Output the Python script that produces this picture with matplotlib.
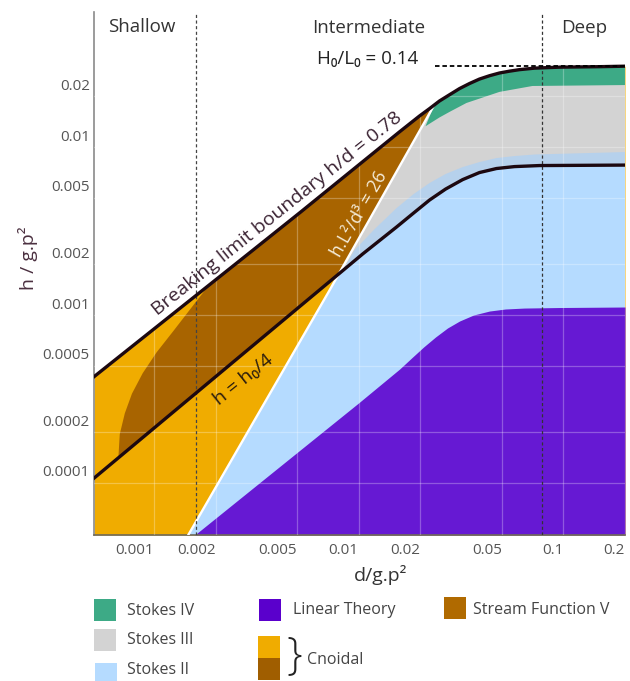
import numpy as np
import matplotlib
matplotlib.use('Agg')
import matplotlib.pyplot as plt
from matplotlib.patches import Polygon, Rectangle
from matplotlib.transforms import ScaledTranslation

plt.rcParams['font.family'] = ['Open Sans', 'DejaVu Sans']

# curves, x = d/gT^2, y = h/gT^2
# breaking limit (h/d = 0.78 on the left, H0/L0 = 0.14 on the right)
break_d = [0.00051, 0.0030, 0.0052, 0.0158, 0.0198, 0.0222, 0.0248, 0.0278, 0.0311, 0.0348, 0.0389,
           0.0436, 0.0487, 0.0545, 0.061, 0.0722, 0.0956, 0.150, 0.2]
break_h = [0.00043, 0.0024, 0.0041, 0.0123, 0.0153, 0.01695, 0.0188, 0.0205, 0.0223, 0.0239, 0.0254,
           0.0266, 0.0276, 0.0283, 0.0289, 0.0295, 0.0299, 0.0301, 0.0303]

# h = hb/4 line
quarter_d = [0.00051, 0.01046, 0.0153, 0.01855, 0.0222, 0.02657, 0.0322, 0.0389, 0.0471, 0.0577, 0.0764, 0.2]
quarter_h = [0.000107, 0.00231, 0.00334, 0.00405, 0.00484, 0.00562, 0.0064, 0.00705, 0.00745, 0.00765,
             0.00776, 0.00781]

# Ursell number line hL^2/d^3 = 26
ursell_d = [0.00147, 0.00722, 0.0235]
ursell_h = [4.9e-5, 0.00141, 0.018]

# left edge of the dark cnoidal patch (from breaking line down to h = hb/4)
cn_d = [0.00181, 0.00150, 0.00124, 0.00103, 0.00088, 0.00078, 0.00072, 0.00068, 0.00067]
cn_h = [0.00145, 0.00108, 0.00080, 0.00060, 0.00045, 0.00034, 0.00026, 0.000195, 0.000143]

# lower edge of Stokes IV
green_d = [0.0212, 0.0248, 0.0278, 0.0336, 0.0487, 0.0706, 0.2]
green_h = [0.0133, 0.0150, 0.0162, 0.0183, 0.0213, 0.0231, 0.0234]

# upper edge of Stokes II (just above hb/4)
band_d = [0.00956, 0.01197, 0.0153, 0.01855, 0.0222, 0.02657, 0.0322, 0.0389, 0.0471, 0.0577, 0.0722, 0.2]
band_h = [0.00244, 0.00325, 0.00433, 0.00525, 0.00611, 0.00691, 0.0076, 0.00814, 0.0086, 0.00884,
          0.00903, 0.00934]

# upper edge of linear theory
lin_d = [0.00158, 0.01, 0.01585, 0.01813, 0.02075, 0.02374, 0.02716, 0.0311, 0.0364, 0.04355, 0.0521,
         0.0645, 0.0956, 0.2]
lin_h = [4.9e-5, 0.00030, 0.000477, 0.000555, 0.000645, 0.00074, 0.000837, 0.000921, 0.001, 0.001056,
         0.001086, 0.0011, 0.001108, 0.001116]

shallow_d = 0.0016
deep_d = 0.079

xticks = [0.001, 0.002, 0.005, 0.01, 0.02, 0.05, 0.1, 0.2]
xtick_labels = ['0.001', '0.002', '0.005', '0.01', '0.02', '0.05', '0.1', '0.2']
yticks = [0.0001, 0.0002, 0.0005, 0.001, 0.002, 0.005, 0.01, 0.02]
ytick_labels = ['0.0001', '0.0002', '0.0005', '0.001', '0.002', '0.005', '0.01', '0.02']

legend_names = ['Stokes IV', 'Stokes III', 'Stokes II', 'Linear Theory', 'Stream Function V']

C_GREEN = '#3daa86'
C_GREY = '#d3d3d3'
C_BLUE = '#b5dbff'
C_BAND = '#b6d1ec'
C_PURPLE = '#6619d3'
C_YELLOW = '#f0ac00'
C_BROWN = '#a86400'
C_LINE = '#1c0810'

W, H = 630, 681
XLIM = (5.09e-4, 0.2)
YLIM = (4.9e-5, 0.0637)
FLOOR = YLIM[0]


def fx(px):
    return px / W


def fy(py):
    return 1 - py / H


fig = plt.figure(figsize=(W / 100, H / 100), dpi=100)
ax = fig.add_axes([fx(94), fy(535), (625 - 94) / W, (535 - 12) / H])
ax.set_xscale('log')
ax.set_yscale('log')

bd = np.array(break_d)
bh = np.array(break_h)
qd = np.array(quarter_d)
qh = np.array(quarter_h)

# region to the right of the Ursell line (inside the axes), used as clip
clip_d = ursell_d + [ursell_d[-1], XLIM[1], XLIM[1]]
clip_h = ursell_h + [YLIM[1], YLIM[1], YLIM[0]]
right_of_ursell = Polygon(np.column_stack([clip_d, clip_h]), transform=ax.transData)


def clip_right(artist):
    artist.set_clip_path(right_of_ursell)


# cnoidal (yellow) everywhere under the breaking limit
ax.fill_between(bd, bh, FLOOR, color=C_YELLOW, lw=0, zorder=1.0)

# brown patch between breaking and hb/4
cd, ch = np.array(cn_d), np.array(cn_h)
low = qd > cd[-1]
up = bd > cd[0]
ax.fill(np.concatenate([cd, qd[low], bd[up][::-1]]),
        np.concatenate([ch, qh[low], bh[up][::-1]]),
        color=C_BROWN, lw=0, zorder=1.1)

# Stokes III
clip_right(ax.fill_between(bd, bh, FLOOR, color=C_GREY, lw=0, zorder=1.2))

# Stokes IV
up = bd > ursell_d[-1]
ax.fill(np.concatenate([green_d, bd[up][::-1], [ursell_d[-1]]]),
        np.concatenate([green_h, bh[up][::-1], [ursell_h[-1]]]),
        color=C_GREEN, lw=0, zorder=1.3)

# Stokes II band above hb/4
band = ax.fill(np.concatenate([[ursell_d[0]], band_d, [band_d[-1]]]),
               np.concatenate([[ursell_h[0]], band_h, [FLOOR]]),
               color=C_BAND, lw=0, zorder=1.4)[0]
clip_right(band)

# Stokes II
clip_right(ax.fill_between(qd, qh, FLOOR, color=C_BLUE, lw=0, zorder=1.5))

# linear theory
ax.fill_between(lin_d, lin_h, FLOOR, color=C_PURPLE, lw=0, zorder=1.6)

ax.grid(True, color='white', alpha=0.28, lw=0.9)
ax.set_axisbelow(False)

ax.plot(ursell_d, ursell_h, color='white', lw=1.7, zorder=6)
ax.plot(bd, bh, color=C_LINE, lw=2.4, zorder=8)
ax.plot(qd, qh, color=C_LINE, lw=2.4, zorder=8)

ax.axvline(shallow_d, color='#444444', lw=0.9, ls=(0, (2.5, 2)), zorder=7)
ax.axvline(deep_d, color='#333333', lw=0.9, ls=(0, (2.5, 2)), zorder=7)
ax.plot([ursell_d[-1], bd[-1]], [bh[-1], bh[-1]], color='black', lw=1.3,
        ls=(0, (2.5, 1.6)), zorder=9)

ax.set_xlim(*XLIM)
ax.set_ylim(*YLIM)
ax.minorticks_off()
ax.set_xticks(xticks)
ax.set_xticklabels(xtick_labels)
ax.set_yticks(yticks)
ax.set_yticklabels(ytick_labels)
ax.tick_params(length=0, labelsize=11, labelcolor='#555555')
ax.tick_params(axis='x', pad=6)
ax.tick_params(axis='y', pad=3)
plt.setp(ax.get_xticklabels(), ha='right')
lift = ScaledTranslation(0, 0.12, fig.dpi_scale_trans)
for lbl in ax.get_yticklabels():
    lbl.set_transform(lbl.get_transform() + lift)

for side in ['top', 'right']:
    ax.spines[side].set_visible(False)
ax.spines['left'].set_color('#8a8a8a')
ax.spines['left'].set_linewidth(1.2)
ax.spines['bottom'].set_color('#6f6a5a')
ax.spines['bottom'].set_linewidth(1.2)

# text along the curves
ax.text(0.0040, 0.0040, 'Breaking limit boundary h/d = 0.78', rotation=38.7,
        rotation_mode='anchor', ha='center', va='center', fontsize=14,
        color='#3b2333', zorder=10)
ax.text(0.00272, 0.00041, 'h = h₀/4', rotation=38.7, rotation_mode='anchor',
        ha='center', va='center', fontsize=14, color='#2b1d0e', zorder=10)
ax.text(0.0101, 0.0040, 'h.L²/d³ = 26', rotation=60.3, rotation_mode='anchor',
        ha='center', va='center', fontsize=13, color='#f5ecd8', zorder=10)

fig.text(fx(142), fy(27), 'Shallow', ha='center', va='center', fontsize=13.5, color='#333333')
fig.text(fx(369), fy(28), 'Intermediate', ha='center', va='center', fontsize=13.5, color='#333333')
fig.text(fx(584), fy(28), 'Deep', ha='center', va='center', fontsize=13.5, color='#333333')
fig.text(fx(368), fy(59), 'H₀/L₀ = 0.14', ha='center', va='center', fontsize=13.5, color='#222222')

fig.text(fx(381), fy(575), 'd/g.p²', ha='center', va='center', fontsize=14, color='#333333')
fig.text(fx(28), fy(258), 'h / g.p²', ha='center', va='center', rotation=90,
         fontsize=14, color='#4b3040')


# legend drawn in figure pixels
def swatch(x0, y0, color):
    fig.add_artist(Rectangle((fx(x0), fy(y0 + 22)), 22 / W, 22 / H,
                             transform=fig.transFigure, color=color, lw=0))


def label(x, y, s):
    fig.text(fx(x), fy(y), s, ha='left', va='center', fontsize=11.5, color='#444444')


swatch(94, 599, C_GREEN)
label(127, 611, legend_names[0])
swatch(94, 629, C_GREY)
label(127, 640, legend_names[1])
swatch(95, 663, C_BLUE)
label(127, 670, legend_names[2])
swatch(259, 599, '#5a00cc')
label(293, 610, legend_names[3])
swatch(444, 597, '#b06a00')
label(473, 610, legend_names[4])
swatch(258, 636, C_YELLOW)
swatch(258, 658, '#a05e00')
fig.text(fx(294), fy(657), '}', ha='center', va='center', fontsize=32,
         color='#222222', fontweight='light')
label(307, 660, 'Cnoidal')

fig.savefig('out.png', dpi=100)
